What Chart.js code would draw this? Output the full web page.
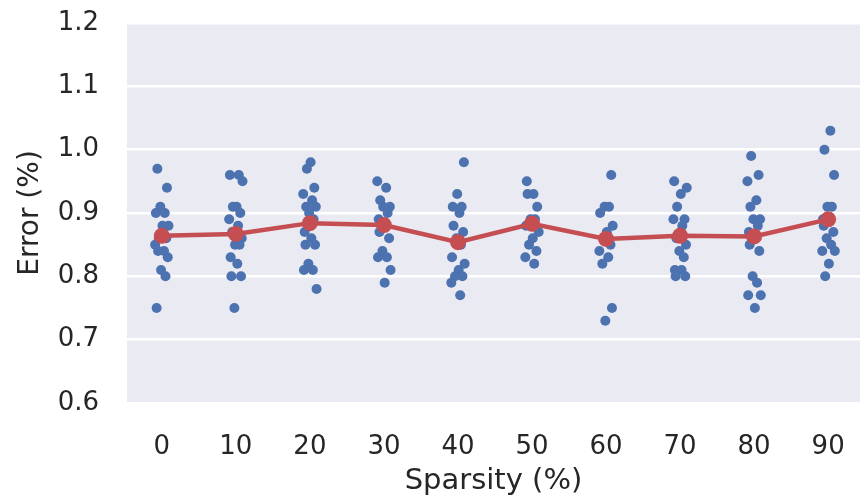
<!DOCTYPE html>
<html>
<head>
<meta charset="utf-8">
<script src="https://cdn.jsdelivr.net/npm/chart.js@4"></script>
<style>
  html, body { margin: 0; padding: 0; background: #fff; }
  #wrap { width: 860px; height: 499px; }
</style>
</head>
<body>
<div id="wrap"><canvas id="c" width="860" height="499"></canvas></div>
<script>
// categories on the x axis
const sparsity = ['0', '10', '20', '30', '40', '50', '60', '70', '80', '90'];

// individual runs per sparsity level
const err0  = [0.97, 0.94, 0.91, 0.90, 0.90, 0.88, 0.88, 0.86, 0.86, 0.85, 0.84, 0.84, 0.83, 0.81, 0.80, 0.75];
const err10 = [0.96, 0.96, 0.95, 0.91, 0.91, 0.90, 0.89, 0.88, 0.87, 0.86, 0.85, 0.85, 0.83, 0.82, 0.80, 0.80, 0.75];
const err20 = [0.98, 0.97, 0.94, 0.93, 0.92, 0.91, 0.91, 0.90, 0.89, 0.87, 0.86, 0.85, 0.85, 0.82, 0.81, 0.81, 0.78];
const err30 = [0.95, 0.94, 0.92, 0.91, 0.91, 0.90, 0.89, 0.88, 0.87, 0.86, 0.84, 0.83, 0.83, 0.81, 0.79];
const err40 = [0.98, 0.93, 0.91, 0.91, 0.90, 0.88, 0.87, 0.86, 0.85, 0.83, 0.82, 0.81, 0.80, 0.80, 0.79, 0.77];
const err50 = [0.95, 0.93, 0.93, 0.91, 0.89, 0.89, 0.88, 0.87, 0.86, 0.85, 0.84, 0.83, 0.82];
const err60 = [0.96, 0.91, 0.91, 0.90, 0.88, 0.87, 0.86, 0.85, 0.84, 0.83, 0.82, 0.75, 0.73];
const err70 = [0.95, 0.94, 0.93, 0.91, 0.89, 0.89, 0.88, 0.86, 0.85, 0.84, 0.83, 0.81, 0.81, 0.80, 0.80];
const err80 = [0.99, 0.96, 0.95, 0.92, 0.91, 0.89, 0.89, 0.88, 0.87, 0.86, 0.85, 0.84, 0.80, 0.79, 0.77, 0.77, 0.75];
const err90 = [1.03, 1.00, 0.96, 0.91, 0.91, 0.89, 0.89, 0.88, 0.87, 0.86, 0.85, 0.84, 0.84, 0.82, 0.80];

// mean error per sparsity level (red line)
const meanErr = [0.864, 0.867, 0.884, 0.881, 0.854, 0.883, 0.859, 0.864, 0.863, 0.890];

// y tick labels
const yTicks = ['0.6', '0.7', '0.8', '0.9', '1.0', '1.1', '1.2'];

const runs = [err0, err10, err20, err30, err40, err50, err60, err70, err80, err90];

// fixed strip jitter pattern (fraction of a category)
const JITTER = [-0.06, 0.07, -0.02, 0.04, -0.08, 0.09, 0.01, -0.04, 0.06, -0.09, 0.03, -0.05, 0.08, -0.01, 0.05, -0.07, 0.02];

const BLUE = '#4C72B0';
const RED = '#C44E52';
const TEXT = '#262626';
const FONT = "'DejaVu Sans', sans-serif";

const stripPts = [];
runs.forEach((vals, i) => {
  vals.forEach((v, j) => {
    stripPts.push({ x: i + JITTER[(j + i * 3) % JITTER.length], y: v });
  });
});
const meanPts = meanErr.map((v, i) => ({ x: i, y: v }));

// plot area background
const bgPlugin = {
  id: 'plotBg',
  beforeDraw(chart) {
    const { ctx, chartArea: a } = chart;
    ctx.save();
    ctx.fillStyle = '#EAEAF2';
    ctx.fillRect(a.left, a.top, a.right - a.left, a.bottom - a.top);
    ctx.restore();
  }
};

new Chart(document.getElementById('c').getContext('2d'), {
  type: 'scatter',
  data: {
    datasets: [
      {
        type: 'line',
        label: 'mean',
        data: meanPts,
        borderColor: RED,
        backgroundColor: RED,
        borderWidth: 4.5,
        pointRadius: 8,
        pointBorderWidth: 0,
        tension: 0,
        order: 0
      },
      {
        label: 'runs',
        data: stripPts,
        backgroundColor: BLUE,
        borderColor: BLUE,
        pointRadius: 5,
        pointBorderWidth: 0,
        order: 1
      }
    ]
  },
  options: {
    responsive: false,
    animation: false,
    layout: { autoPadding: false, padding: { top: 23, right: 0, left: 0, bottom: 0 } },
    plugins: { legend: { display: false }, tooltip: { enabled: false } },
    scales: {
      x: {
        type: 'linear',
        min: -0.47,
        max: 9.43,
        afterBuildTicks(scale) {
          scale.ticks = sparsity.map((s, i) => ({ value: i }));
        },
        afterFit(scale) {
          scale.height = 96;
          scale.paddingLeft = 0;
          scale.paddingRight = 0;
        },
        ticks: {
          autoSkip: false,
          maxRotation: 0,
          padding: 29,
          color: TEXT,
          font: { family: FONT, size: 26 },
          callback: (v) => sparsity[v]
        },
        grid: { display: false, drawTicks: false },
        border: { display: false },
        title: {
          display: true,
          text: 'Sparsity (%)',
          color: TEXT,
          font: { family: FONT, size: 29 },
          padding: { top: 0, bottom: 0 }
        }
      },
      y: {
        min: 0.6,
        max: 1.2,
        afterBuildTicks(scale) {
          scale.ticks = yTicks.map(t => ({ value: parseFloat(t) }));
        },
        afterFit(scale) {
          scale.width = 127;
          scale.paddingTop = 0;
          scale.paddingBottom = 0;
        },
        ticks: {
          padding: 28,
          color: TEXT,
          font: { family: FONT, size: 26 },
          callback: (v) => yTicks.find(t => Math.abs(parseFloat(t) - v) < 1e-6)
        },
        grid: { color: '#FFFFFF', lineWidth: 2.5, drawTicks: false },
        border: { display: false },
        title: {
          display: true,
          text: 'Error (%)',
          color: TEXT,
          font: { family: FONT, size: 28 },
          padding: { top: 14, bottom: 0 }
        }
      }
    }
  },
  plugins: [bgPlugin]
});
</script>
</body>
</html>
